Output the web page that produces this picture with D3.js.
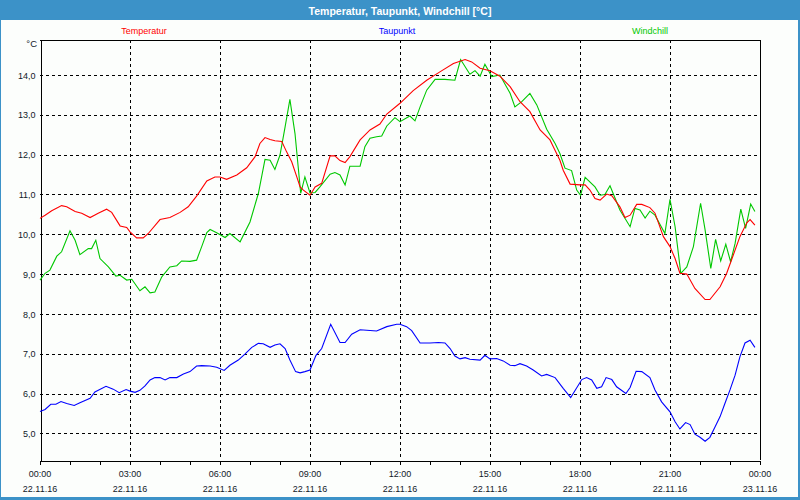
<!DOCTYPE html>
<html><head><meta charset="utf-8">
<script src="https://cdn.jsdelivr.net/npm/d3@7/dist/d3.min.js"></script>
<style>
html,body{margin:0;padding:0;background:#fff;}
svg{display:block;font-family:"Liberation Sans",Arial,sans-serif;}
</style></head>
<body>
<svg id="chart" width="800" height="500"></svg>
<script>
const title = "Temperatur, Taupunkt, Windchill [°C]";
const seriesNames = ["Temperatur", "Taupunkt", "Windchill"];
const seriesColors = ["#ff0000", "#0000ff", "#00c800"];
const yTicks = [5, 6, 7, 8, 9, 10, 11, 12, 13, 14];
const xTickHours = [0, 3, 6, 9, 12, 15, 18, 21, 24];
const xTimeLabels = ["00:00","03:00","06:00","09:00","12:00","15:00","18:00","21:00","00:00"];
const xDateLabels = ["22.11.16","22.11.16","22.11.16","22.11.16","22.11.16","22.11.16","22.11.16","22.11.16","23.11.16"];

// [hour of day, value °C]
const temperatur = [
[0.00,10.40],[0.17,10.48],[0.39,10.59],[0.72,10.72],[0.89,10.69],[1.17,10.57],[1.39,10.53],[1.67,10.42],
[1.94,10.53],[2.22,10.63],[2.39,10.55],[2.67,10.21],[2.89,10.17],[3.00,10.06],[3.22,9.91],[3.44,9.91],
[3.61,10.02],[4.00,10.37],[4.33,10.42],[4.67,10.55],[4.94,10.69],[5.22,10.96],[5.56,11.34],[5.83,11.44],
[6.00,11.44],[6.22,11.38],[6.56,11.49],[6.89,11.67],[7.17,11.95],[7.33,12.28],[7.50,12.43],[7.67,12.38],
[7.83,12.35],[8.06,12.33],[8.22,12.07],[8.39,11.82],[8.56,11.44],[8.67,11.19],[8.78,11.11],[9.00,10.98],
[9.17,11.19],[9.39,11.28],[9.67,11.97],[9.83,11.97],[10.00,11.85],[10.17,11.80],[10.33,11.95],[10.67,12.37],
[11.00,12.62],[11.33,12.77],[11.56,13.02],[12.00,13.29],[12.44,13.61],[12.89,13.87],[13.33,14.08],[13.78,14.29],
[14.17,14.39],[14.39,14.33],[14.67,14.17],[15.00,14.11],[15.33,13.97],[15.67,13.71],[16.00,13.33],[16.33,13.08],
[16.67,12.62],[17.00,12.37],[17.11,12.20],[17.33,11.86],[17.44,11.61],[17.67,11.26],[18.00,11.24],[18.17,11.24],
[18.33,11.11],[18.50,10.90],[18.67,10.86],[18.89,11.01],[19.06,10.97],[19.33,10.69],[19.50,10.42],[19.67,10.48],
[19.89,10.75],[20.06,10.75],[20.33,10.67],[20.50,10.53],[20.78,9.94],[21.00,9.69],[21.17,9.39],[21.33,9.02],
[21.56,9.00],[21.83,8.64],[22.17,8.36],[22.33,8.36],[22.67,8.68],[22.89,9.02],[23.11,9.48],[23.33,9.94],
[23.56,10.29],[23.67,10.37],[23.83,10.23]
];

const taupunkt = [
[0.00,5.55],[0.17,5.60],[0.36,5.73],[0.53,5.73],[0.70,5.80],[0.89,5.75],[1.14,5.70],[1.33,5.77],
[1.67,5.88],[1.83,6.04],[2.20,6.18],[2.44,6.11],[2.64,6.02],[2.87,6.10],[3.00,6.06],[3.17,6.03],
[3.33,6.08],[3.50,6.19],[3.67,6.34],[3.83,6.40],[4.00,6.40],[4.17,6.34],[4.33,6.40],[4.56,6.40],
[4.78,6.49],[5.00,6.55],[5.22,6.69],[5.39,6.70],[5.67,6.69],[5.89,6.66],[6.14,6.58],[6.33,6.71],
[6.61,6.84],[6.83,6.99],[7.06,7.16],[7.28,7.26],[7.44,7.25],[7.67,7.16],[7.83,7.22],[8.00,7.25],
[8.17,7.13],[8.33,6.84],[8.52,6.55],[8.67,6.52],[8.83,6.55],[9.00,6.59],[9.20,6.96],[9.39,7.13],
[9.69,7.74],[10.00,7.28],[10.17,7.28],[10.39,7.49],[10.67,7.60],[10.89,7.59],[11.22,7.57],[11.56,7.68],
[11.89,7.74],[12.00,7.74],[12.22,7.68],[12.39,7.58],[12.67,7.27],[13.00,7.27],[13.28,7.28],[13.50,7.27],
[13.67,7.13],[13.83,6.94],[14.00,6.87],[14.17,6.90],[14.33,6.86],[14.67,6.84],[14.83,6.96],[15.00,6.87],
[15.22,6.88],[15.44,6.82],[15.67,6.71],[15.83,6.70],[16.00,6.75],[16.22,6.69],[16.44,6.59],[16.72,6.44],
[16.89,6.48],[17.17,6.40],[17.44,6.13],[17.69,5.90],[17.83,6.07],[18.06,6.35],[18.22,6.40],[18.39,6.34],
[18.56,6.13],[18.72,6.17],[18.87,6.40],[19.06,6.35],[19.22,6.17],[19.53,6.00],[19.67,6.15],[19.87,6.56],
[20.06,6.55],[20.33,6.40],[20.50,6.09],[20.72,5.79],[21.00,5.54],[21.17,5.29],[21.33,5.11],[21.52,5.27],
[21.67,5.22],[21.83,4.98],[22.00,4.90],[22.17,4.80],[22.33,4.90],[22.50,5.16],[22.67,5.42],[22.83,5.75],
[23.00,6.09],[23.17,6.46],[23.33,6.92],[23.50,7.27],[23.67,7.34],[23.83,7.16]
];

const windchill = [
[0.00,8.85],[0.17,9.02],[0.33,9.10],[0.56,9.45],[0.72,9.56],[1.00,10.09],[1.17,9.85],[1.33,9.49],
[1.61,9.64],[1.72,9.64],[1.86,9.85],[2.00,9.39],[2.28,9.18],[2.53,8.95],[2.67,8.97],[2.89,8.85],
[3.06,8.87],[3.33,8.58],[3.50,8.68],[3.67,8.53],[3.83,8.55],[4.06,8.93],[4.33,9.18],[4.56,9.21],
[4.72,9.33],[5.00,9.32],[5.22,9.35],[5.39,9.69],[5.56,10.04],[5.67,10.12],[5.89,10.04],[6.17,9.92],
[6.33,10.02],[6.67,9.81],[7.00,10.31],[7.28,11.03],[7.50,11.88],[7.67,11.86],[7.83,11.63],[8.00,11.99],
[8.17,12.70],[8.33,13.39],[8.50,12.53],[8.69,11.03],[8.83,11.44],[9.00,11.04],[9.17,11.05],[9.33,11.19],
[9.67,11.51],[9.83,11.55],[10.00,11.49],[10.17,11.24],[10.33,11.71],[10.67,11.71],[10.83,12.20],[11.00,12.41],
[11.22,12.45],[11.39,12.47],[11.56,12.72],[11.83,12.93],[12.00,12.83],[12.33,12.97],[12.50,12.85],[12.67,13.20],
[12.89,13.62],[13.17,13.89],[13.50,13.89],[13.83,13.87],[14.02,14.39],[14.33,14.02],[14.50,14.11],[14.67,13.97],
[14.83,14.27],[15.06,13.96],[15.33,14.00],[15.67,13.54],[15.83,13.20],[16.06,13.33],[16.33,13.54],[16.56,13.25],
[16.89,12.64],[17.17,12.28],[17.33,12.03],[17.50,11.66],[17.72,11.60],[17.89,11.11],[18.02,10.98],[18.17,11.43],
[18.50,11.19],[18.67,10.98],[18.83,11.00],[19.00,11.22],[19.33,10.61],[19.67,10.19],[19.83,10.65],[20.00,10.61],
[20.17,10.41],[20.33,10.58],[20.50,10.48],[20.83,10.02],[21.00,10.88],[21.17,10.19],[21.36,9.02],[21.56,9.18],
[21.78,9.69],[22.02,10.78],[22.17,10.11],[22.36,9.14],[22.52,9.87],[22.69,9.33],[22.86,9.75],[23.02,9.31],
[23.17,9.77],[23.36,10.63],[23.52,10.15],[23.69,10.76],[23.83,10.57]
];

const svg = d3.select("#chart");
const W = 800, H = 500;
const plot = {left: 40, right: 760, top: 40, bottom: 460};

// frame & background
svg.append("rect").attr("x",0).attr("y",0).attr("width",W).attr("height",H).attr("fill","#3c92c8");
svg.append("rect").attr("x",1).attr("y",20).attr("width",W-3).attr("height",H-23).attr("fill","#fcfefc");

svg.append("text").attr("x",W/2).attr("y",14.5).attr("text-anchor","middle")
  .attr("fill","#ffffff").attr("font-weight","bold").attr("font-size","10.5px").text(title);

const x = d3.scaleLinear().domain([0,24]).range([plot.left, plot.right]);
const y = d3.scaleLinear().domain([4.33,14.88]).range([plot.bottom, plot.top]);

// grid
const grid = svg.append("g").attr("stroke","#000").attr("stroke-width",1).attr("stroke-dasharray","3,3").attr("shape-rendering","crispEdges");
grid.selectAll(".hg").data(yTicks).join("line")
  .attr("x1",plot.left).attr("x2",plot.right)
  .attr("y1",d=>Math.round(y(d))+0.5).attr("y2",d=>Math.round(y(d))+0.5);
grid.selectAll(".vg").data(xTickHours.slice(1,-1)).join("line")
  .attr("y1",plot.top).attr("y2",plot.bottom)
  .attr("x1",d=>Math.round(x(d))+0.5).attr("x2",d=>Math.round(x(d))+0.5);

// axes
const yAxis = d3.axisLeft(y).tickValues(yTicks).tickSize(0).tickPadding(5)
  .tickFormat(d => d3.format(".1f")(d).replace(".", ","));
const gy = svg.append("g").attr("transform",`translate(${plot.left+0.5},0)`).call(yAxis);
gy.select(".domain").attr("stroke","#000").attr("shape-rendering","crispEdges");
gy.selectAll("text").attr("font-size","9px").attr("fill","#101828").attr("font-family","Liberation Sans, Arial, sans-serif").attr("dy","0.35em");

const xAxis = d3.axisBottom(x).tickValues(d3.range(0,25,1)).tickSizeInner(4).tickSizeOuter(0).tickFormat("");
const gx = svg.append("g").attr("transform",`translate(0,${plot.bottom+0.5})`).call(xAxis);
gx.select(".domain").attr("stroke","#000").attr("shape-rendering","crispEdges");
gx.selectAll("line").attr("stroke","#000").attr("shape-rendering","crispEdges");

// right border of plot
svg.append("line").attr("x1",plot.right+0.5).attr("x2",plot.right+0.5).attr("y1",plot.top).attr("y2",plot.bottom)
  .attr("stroke","#000").attr("shape-rendering","crispEdges");
svg.append("line").attr("x1",plot.left).attr("x2",plot.right+1).attr("y1",plot.top+0.5).attr("y2",plot.top+0.5)
  .attr("stroke","#000").attr("shape-rendering","crispEdges");

const xl = svg.append("g").attr("font-size","9px").attr("fill","#101828").attr("text-anchor","middle");
xl.selectAll(".t").data(xTickHours).join("text").attr("x",d=>x(d)).attr("y",477).text((d,i)=>xTimeLabels[i]);
xl.selectAll(".d").data(xTickHours).join("text").attr("x",d=>x(d)).attr("y",492).text((d,i)=>xDateLabels[i]);

svg.append("text").attr("x",37).attr("y",47).attr("text-anchor","end").attr("font-size","9.5px").attr("fill","#101828").text("°C");

// legend
const legendX = [144, 397, 650];
svg.selectAll(".leg").data(seriesNames).join("text")
  .attr("x",(d,i)=>legendX[i]).attr("y",34).attr("text-anchor","middle")
  .attr("font-size","9px").attr("fill",(d,i)=>seriesColors[i]).text(d=>d);

// lines
const line = d3.line().x(d=>x(d[0])).y(d=>y(d[1]));
const allSeries = [temperatur, taupunkt, windchill];
[2,0,1].forEach(i => {
  svg.append("path").datum(allSeries[i]).attr("d",line)
    .attr("fill","none").attr("stroke",seriesColors[i]).attr("stroke-width",1.1);
});
</script>
</body></html>
